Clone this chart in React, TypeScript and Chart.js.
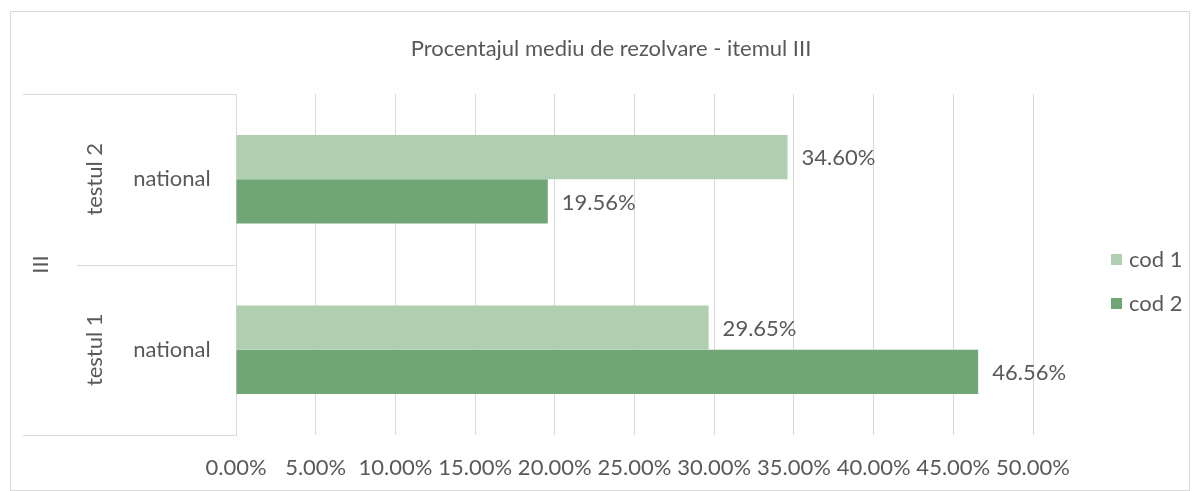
import React, { useEffect, useRef } from "react";
import { Chart, registerables } from "chart.js";

Chart.register(...registerables);

const title = "Procentajul mediu de rezolvare - itemul III";
const groupLabel = "III";
const testLabels = ["testul 2", "testul 1"];
const subLabels = ["national", "national"];
const seriesNames = ["cod 1", "cod 2"];
const cod1Values = [34.6, 29.65];
const cod2Values = [19.56, 46.56];
const seriesColors = ["#afcfb0", "#70a575"];
const xTicks = { min: 0, max: 50, step: 5 };

const FONT = "Lato, 'Open Sans', sans-serif";
const TEXT = "#595959";
const LINE = "#d9d9d9";
const FS = 22;

const drawPlugin = {
  id: "excelDecor",
  afterDraw(chart: any) {
    const ctx = chart.ctx;
    const area = chart.chartArea;
    const y = chart.scales.y;
    ctx.save();
    // title
    ctx.fillStyle = TEXT;
    ctx.font = `${FS}px ${FONT}`;
    ctx.textAlign = "center";
    ctx.textBaseline = "middle";
    ctx.fillText(title, chart.width / 2 + 11, 37);

    // category axis lines
    ctx.strokeStyle = LINE;
    ctx.lineWidth = 1;
    ctx.beginPath();
    ctx.moveTo(12, Math.round(area.top) + 0.5);
    ctx.lineTo(area.left, Math.round(area.top) + 0.5);
    ctx.moveTo(12, Math.round(area.bottom) + 0.5);
    ctx.lineTo(area.left, Math.round(area.bottom) + 0.5);
    const mid = Math.round((y.getPixelForValue(0) + y.getPixelForValue(1)) / 2) + 0.5;
    ctx.moveTo(66, mid);
    ctx.lineTo(area.left, mid);
    ctx.stroke();

    // category labels
    ctx.fillStyle = TEXT;
    testLabels.forEach((t, i) => {
      const py = y.getPixelForValue(i);
      ctx.textAlign = "center";
      ctx.textBaseline = "middle";
      ctx.fillText(subLabels[i], 161, py);
      ctx.save();
      ctx.translate(84, py);
      ctx.rotate(-Math.PI / 2);
      ctx.fillText(t, 0, 0);
      ctx.restore();
    });
    ctx.save();
    ctx.translate(30, (area.top + area.bottom) / 2);
    ctx.rotate(-Math.PI / 2);
    ctx.textAlign = "center";
    ctx.textBaseline = "middle";
    ctx.fillText(groupLabel, 0, 0);
    ctx.restore();

    // data labels
    ctx.textAlign = "left";
    ctx.textBaseline = "middle";
    chart.data.datasets.forEach((ds: any, di: number) => {
      const meta = chart.getDatasetMeta(di);
      meta.data.forEach((bar: any, i: number) => {
        const v = ds.data[i];
        ctx.fillText(v.toFixed(2) + "%", bar.x + 14, bar.y + 1);
      });
    });

    // legend
    seriesNames.forEach((n, i) => {
      const ly = 248 + i * 44;
      ctx.fillStyle = seriesColors[i];
      ctx.fillRect(1100, ly - 6, 11, 11);
      ctx.fillStyle = TEXT;
      ctx.textAlign = "left";
      ctx.fillText(n, 1118, ly);
    });
    ctx.restore();
  },
};

export default function App() {
  const ref = useRef<HTMLCanvasElement>(null);
  useEffect(() => {
    if (!ref.current) return;
    const chart = new Chart(ref.current, {
      type: "bar",
      data: {
        labels: testLabels,
        datasets: [
          {
            label: seriesNames[0],
            data: cod1Values,
            backgroundColor: seriesColors[0],
            categoryPercentage: 0.52,
            barPercentage: 1,
          },
          {
            label: seriesNames[1],
            data: cod2Values,
            backgroundColor: seriesColors[1],
            categoryPercentage: 0.52,
            barPercentage: 1,
          },
        ],
      },
      options: {
        indexAxis: "y",
        animation: false,
        responsive: false,
        maintainAspectRatio: false,
        layout: { padding: { left: 225, right: 156, top: 82, bottom: 15 } },
        plugins: {
          legend: { display: false },
          title: { display: false },
          tooltip: { enabled: false },
        },
        scales: {
          x: {
            min: xTicks.min,
            max: xTicks.max,
            afterFit: (s: any) => {
              s.height = 40;
            },
            ticks: {
              stepSize: xTicks.step,
              padding: 20,
              color: TEXT,
              font: { family: FONT, size: FS },
              maxRotation: 0,
              minRotation: 0,
              autoSkip: false,
              callback: (v: any) => Number(v).toFixed(2) + "%",
            },
            grid: { color: LINE, drawTicks: false },
            border: { display: false },
          },
          y: {
            afterFit: (s: any) => {
              s.width = 0;
            },
            ticks: { display: false },
            grid: { display: false },
            border: { display: true, color: LINE },
          },
        },
      },
      plugins: [drawPlugin],
    });
    return () => chart.destroy();
  }, []);
  return (
    <div
      style={{
        marginLeft: 2,
        marginTop: 3,
        width: 1178,
        height: 478,
        border: `1px solid ${LINE}`,
      }}
    >
      <canvas ref={ref} width={1178} height={478} style={{ display: "block" }} />
    </div>
  );
}
